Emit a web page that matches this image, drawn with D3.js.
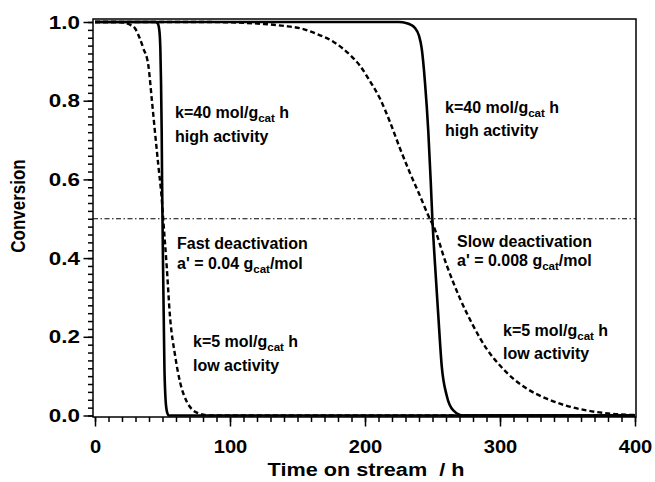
<!DOCTYPE html>
<html>
<head>
<meta charset="utf-8">
<script src="https://cdn.jsdelivr.net/npm/d3@7"></script>
<style>
  body { margin: 0; background: #fff; }
  text { font-family: "Liberation Sans", Arial, sans-serif; font-weight: bold; fill: #000; }
</style>
</head>
<body>
<script>
// values (time in h, conversion 0..1)

// fast deactivation, a' = 0.04, k = 40 (solid)
var fastHighT = [0, 45, 46.3, 46.9, 47.4, 48, 48.4, 48.9, 49.4, 49.7, 50, 50.4, 50.9, 51.4, 52.1, 53.1, 54.6, 400];
var fastHighC = [1, 1, 0.997, 0.993, 0.985, 0.965, 0.933, 0.848, 0.721, 0.594, 0.5, 0.382, 0.254, 0.127, 0.051, 0.013, 0, 0];

// fast deactivation, a' = 0.04, k = 5 (dashed)
var fastLowT = [0, 15, 22, 26, 29.6, 33, 35.8, 39.5, 42, 44.4, 46.9, 49.4, 50.5, 53.1, 55.5, 59.3, 63, 68, 72, 78, 85, 400];
var fastLowC = [1, 1, 0.998, 0.993, 0.984, 0.96, 0.933, 0.89, 0.806, 0.721, 0.636, 0.552, 0.5, 0.38, 0.254, 0.153, 0.085, 0.035, 0.015, 0.004, 0, 0];

// slow deactivation, a' = 0.008, k = 40 (solid)
var slowHighT = [0, 225, 231, 234, 237, 240, 242, 244.4, 246.9, 248.7, 249.9, 251.9, 254.3, 256.8, 260.5, 265.4, 272.8, 400];
var slowHighC = [1, 1, 0.997, 0.993, 0.985, 0.965, 0.933, 0.848, 0.721, 0.594, 0.5, 0.382, 0.254, 0.127, 0.051, 0.013, 0, 0];

// slow deactivation, a' = 0.008, k = 5 (dashed)
var slowLowT = [0, 80, 100, 125, 140, 152, 164, 176.5, 189, 196, 204, 211, 218.5, 226, 233, 240.5, 248, 250.5, 260.5, 270.4, 280, 290, 300, 310, 320, 335, 349, 364, 384, 400];
var slowLowC = [1, 1, 0.999, 0.995, 0.99, 0.984, 0.97, 0.95, 0.916, 0.89, 0.848, 0.806, 0.746, 0.678, 0.619, 0.56, 0.5, 0.483, 0.382, 0.297, 0.229, 0.17, 0.127, 0.093, 0.068, 0.042, 0.025, 0.013, 0.004, 0.001];

var halfLine = 0.5;

var xMajor = [0, 100, 200, 300, 400];
var yMajor = [0, 0.2, 0.4, 0.6, 0.8, 1.0];

var W = 655, H = 482;
var box = {left: 93, right: 636, top: 19, bottom: 417};

var x = d3.scaleLinear().domain([0, 400]).range([95, 635]);
var y = d3.scaleLinear().domain([0, 1]).range([415.5, 22]);

var svg = d3.select("body").append("svg")
    .attr("width", W).attr("height", H);

function tidy(g) {
  g.select(".domain").remove();
  g.selectAll("line").attr("stroke", "#000").attr("stroke-width", 1.5);
}

// the source art is a little stretched sideways
var sx = 1.18;

// y axis, major + minor
var yMinor = d3.range(0, 51).map(function(i) { return i / 50; });
svg.append("g")
    .attr("transform", "translate(" + box.left + ",0)")
    .call(d3.axisLeft(y).tickValues(yMinor).tickSize(5).tickSizeOuter(0).tickFormat(""))
    .call(tidy);
var ya = svg.append("g")
    .attr("transform", "translate(" + box.left + ",0)")
    .call(d3.axisLeft(y).tickValues(yMajor).tickSize(9.5).tickFormat(d3.format(".1f")))
    .call(tidy);
ya.selectAll("text").attr("font-size", 19).attr("font-family", null)
    .attr("transform", "scale(" + sx + ",1)")
    .attr("x", -13 / sx);

// x axis, major + minor
var xMinor = d3.range(0, 41).map(function(i) { return i * 10; });
svg.append("g")
    .attr("transform", "translate(0," + box.bottom + ")")
    .call(d3.axisBottom(x).tickValues(xMinor).tickSize(5).tickSizeOuter(0).tickFormat(""))
    .call(tidy);
var xa = svg.append("g")
    .attr("transform", "translate(0," + box.bottom + ")")
    .call(d3.axisBottom(x).tickValues(xMajor).tickSize(9.5).tickFormat(d3.format("d")))
    .call(tidy);
xa.selectAll("text").attr("font-size", 19).attr("font-family", null)
    .attr("transform", "scale(1.06,1)")
    .attr("y", 36).attr("dy", null);

// frame
svg.append("rect")
    .attr("x", box.left).attr("y", box.top)
    .attr("width", box.right - box.left).attr("height", box.bottom - box.top)
    .attr("fill", "none").attr("stroke", "#000").attr("stroke-width", 1.5);

// 50 % conversion line
svg.append("line")
    .attr("x1", box.left).attr("x2", box.right)
    .attr("y1", y(halfLine)).attr("y2", y(halfLine))
    .attr("stroke", "#000").attr("stroke-width", 1)
    .attr("stroke-dasharray", "5,2.5,1.5,2.5");

var line = d3.line()
    .x(function(d) { return x(d[0]); })
    .y(function(d) { return y(d[1]); })
    .curve(d3.curveMonotoneX);

function pairs(t, c) { return t.map(function(v, i) { return [v, c[i]]; }); }

var series = [
  {t: fastLowT, c: fastLowC, dash: "5,3", w: 2.4},
  {t: slowLowT, c: slowLowC, dash: "5,3", w: 2.4},
  {t: fastHighT, c: fastHighC, dash: null, w: 2.6},
  {t: slowHighT, c: slowHighC, dash: null, w: 2.6}
];

svg.selectAll("path.curve")
    .data(series)
    .enter()
    .append("path")
    .attr("class", "curve")
    .attr("d", function(d) { return line(pairs(d.t, d.c)); })
    .attr("fill", "none")
    .attr("stroke", "#000")
    .attr("stroke-width", function(d) { return d.w; })
    .attr("stroke-dasharray", function(d) { return d.dash; });

// annotations: [x, y, before-sub, sub, after-sub]
var notes = [
  [175, 117.5, "k=40 mol/g", "cat", " h"],
  [175, 141.5, "high activity"],
  [445, 112.5, "k=40 mol/g", "cat", " h"],
  [445, 136, "high activity"],
  [177, 249, "Fast deactivation"],
  [177, 268.5, "a' = 0.04 g", "cat", "/mol"],
  [457, 247, "Slow deactivation"],
  [457, 266, "a' = 0.008 g", "cat", "/mol"],
  [193, 347, "k=5 mol/g", "cat", " h"],
  [193, 371, "low activity"],
  [503, 336, "k=5 mol/g", "cat", " h"],
  [503, 358.5, "low activity"]
];

notes.forEach(function(n) {
  var t = svg.append("text").attr("x", n[0]).attr("y", n[1]).attr("font-size", 16);
  t.append("tspan").text(n[2]);
  if (n.length > 3) {
    t.append("tspan").attr("font-size", 11.5).attr("dy", 4).text(n[3]);
    t.append("tspan").attr("dy", -4).text(n[4]);
  }
});

// axis titles
svg.append("text")
    .attr("transform", "scale(1.14,1)")
    .attr("x", 366 / 1.14).attr("y", 476)
    .attr("text-anchor", "middle").attr("font-size", 19)
    .attr("xml:space", "preserve")
    .text("Time on stream  / h");

svg.append("text")
    .attr("transform", "translate(25,206) rotate(-90) scale(1,1.14)")
    .attr("text-anchor", "middle").attr("font-size", 17)
    .text("Conversion");
</script>
</body>
</html>
